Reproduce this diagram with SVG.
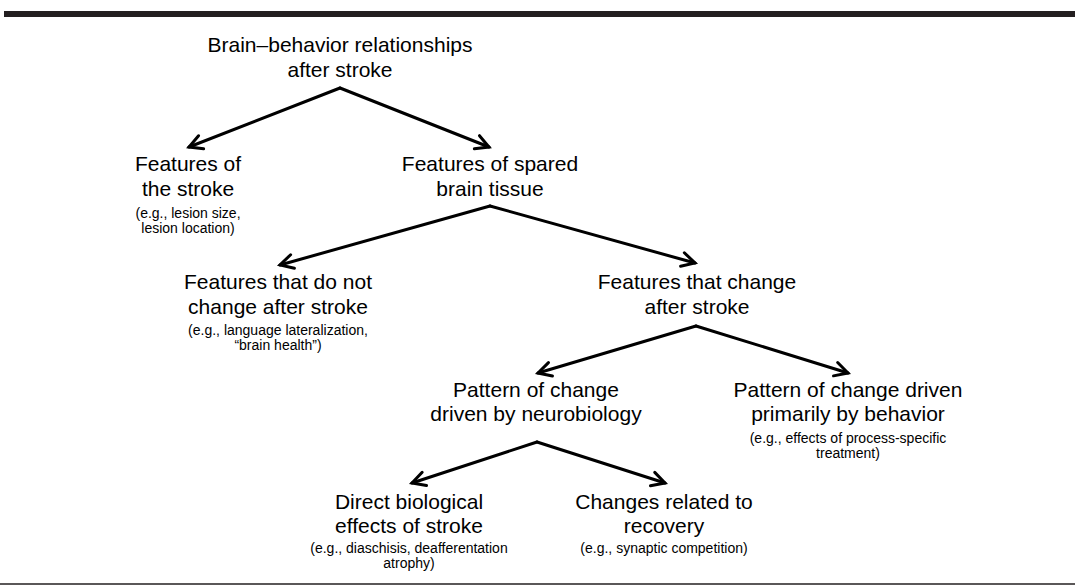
<svg xmlns="http://www.w3.org/2000/svg" width="1075" height="588" viewBox="0 0 1075 588">
<defs>
<style>
.t{font-family:"Liberation Sans",Arial,sans-serif;font-size:21px;fill:#000;text-anchor:middle}
.s{font-family:"Liberation Sans",Arial,sans-serif;font-size:14px;fill:#000;text-anchor:middle}
.c{fill:none;stroke:#000;stroke-width:3;stroke-linecap:round;stroke-linejoin:miter}
</style>
<marker id="ah" markerUnits="userSpaceOnUse" markerWidth="20" markerHeight="20" viewBox="-16 -10 20 20" refX="0" refY="0" orient="auto">
<path d="M -13 -7 L 0 0 L -13 7" fill="none" stroke="#000" stroke-width="3" stroke-linecap="round" stroke-linejoin="miter"/>
</marker>
</defs>
<rect width="1075" height="588" fill="#fff"/>
<rect x="4" y="11" width="1071" height="6" fill="#231f20"/>
<line x1="0" y1="584" x2="1075" y2="584" stroke="#231f20" stroke-width="1.5"/>
<g id="connectors">
<path class="c" d="M 340 88 L 189 147" marker-end="url(#ah)"/>
<path class="c" d="M 340 88 L 489 147" marker-end="url(#ah)"/>
<path class="c" d="M 490 206 L 280 265" marker-end="url(#ah)"/>
<path class="c" d="M 490 206 L 695 263" marker-end="url(#ah)"/>
<path class="c" d="M 696 326 L 538 373" marker-end="url(#ah)"/>
<path class="c" d="M 696 326 L 848 373" marker-end="url(#ah)"/>
<path class="c" d="M 537 442 L 412 483" marker-end="url(#ah)"/>
<path class="c" d="M 537 442 L 665 483" marker-end="url(#ah)"/>
</g>
<g id="n-root">
<text class="t" x="340" y="52">Brain–behavior relationships</text>
<text class="t" x="340" y="77">after stroke</text>
</g>
<g id="n-stroke">
<text class="t" x="188" y="171">Features of</text>
<text class="t" x="188" y="196">the stroke</text>
<text class="s" x="188" y="218">(e.g., lesion size,</text>
<text class="s" x="188" y="233">lesion location)</text>
</g>
<g id="n-spared">
<text class="t" x="490" y="171">Features of spared</text>
<text class="t" x="490" y="196">brain tissue</text>
</g>
<g id="n-nochange">
<text class="t" x="278" y="289">Features that do not</text>
<text class="t" x="278" y="314">change after stroke</text>
<text class="s" x="278" y="335">(e.g., language lateralization,</text>
<text class="s" x="278" y="350">“brain health”)</text>
</g>
<g id="n-change">
<text class="t" x="697" y="289">Features that change</text>
<text class="t" x="697" y="314">after stroke</text>
</g>
<g id="n-neuro">
<text class="t" x="536" y="397">Pattern of change</text>
<text class="t" x="536" y="421">driven by neurobiology</text>
</g>
<g id="n-behavior">
<text class="t" x="848" y="397">Pattern of change driven</text>
<text class="t" x="848" y="421">primarily by behavior</text>
<text class="s" x="848" y="443">(e.g., effects of process-specific</text>
<text class="s" x="848" y="458">treatment)</text>
</g>
<g id="n-direct">
<text class="t" x="409" y="509">Direct biological</text>
<text class="t" x="409" y="533">effects of stroke</text>
<text class="s" x="409" y="553">(e.g., diaschisis, deafferentation</text>
<text class="s" x="409" y="568">atrophy)</text>
</g>
<g id="n-recovery">
<text class="t" x="664" y="509">Changes related to</text>
<text class="t" x="664" y="533">recovery</text>
<text class="s" x="664" y="553">(e.g., synaptic competition)</text>
</g>
</svg>
